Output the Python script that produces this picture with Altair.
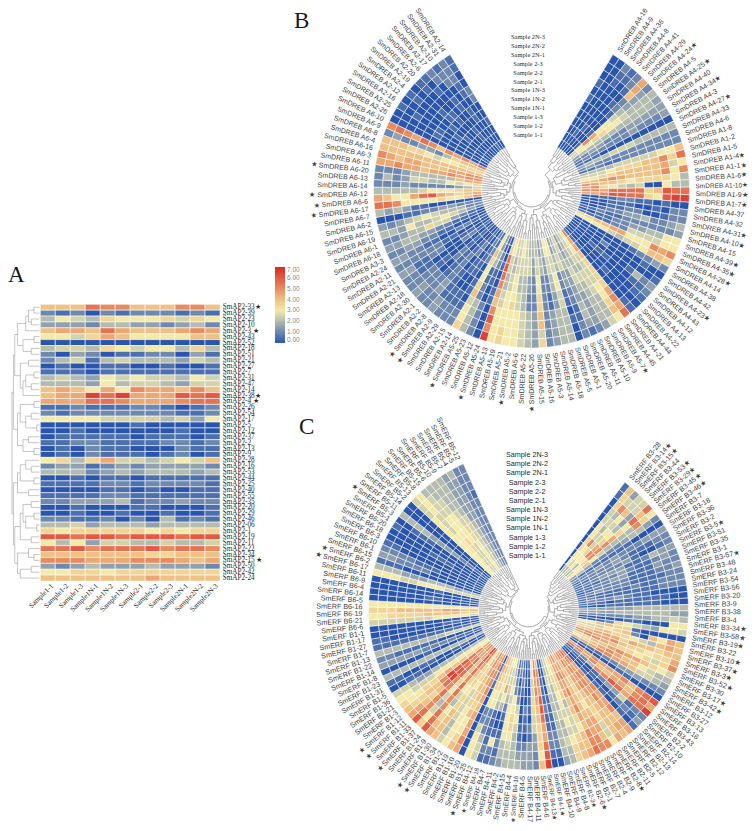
import altair as alt
import pandas as pd
import math

alt.data_transformers.disable_max_rows()

# Values are coded in half steps: 0=0.0, 2=1.0, 4=2.0, 6=3.0, 8=4.0, a=5.0, c=6.0, e=7.0
SAMPLES = ["1-1", "1-2", "1-3", "1N-1", "1N-2", "1N-3", "2-1", "2-2", "2-3", "2N-1", "2N-2", "2N-3"]
LEGEND_TICKS = [0, 1, 2, 3, 4, 5, 6, 7]
COLOR_STOPS = ["#2a55ad", "#6e88ae", "#b3bcae", "#f3e9a8", "#efc184", "#e88c60", "#e25a45", "#d62a22"]

A_LABELS = ["33★", "39", "23", "10", "3 ★", "43", "52", "18", "51", "21", "27", "7", "31", "47", "14", "38★", "4 ★",
            "26", "54", "17", "5", "12", "37", "2", "13", "9", "28", "16", "53", "44", "25", "40", "55", "35", "20",
            "29", "46", "06", "1", "19", "11", "22", "34", "15 ★", "50", "42", "24"]
A_ROWS = ["888baa888aa8", "212021222121", "465476667576", "333244332342", "8998b9888 9a9".replace(" ", ""),
          "665798666688", "000000000000", "455476566474", "203201122031", "245145444354", "010011001001",
          "111011111111", "454365655465", "444364554355", "898696a998a8", "899dbd999cbc", "999bba999abb",
          "112111221012", "212222222112", "666655554536", "000000100000", "001000000100", "011111011101",
          "112211112212", "010211000211", "010211101201", "674795545658", "233123233332", "444234344434",
          "001011011111", "111122122221", "000011010011", "111122111111", "223334122322", "001000110001",
          "001001001001", "221120204121", "445344434444", "767777767677", "ccbccbcccbc c".replace(" ", ""),
          "646355445445", "bbcabbbcabba", "888888877888", "aaa999aaa989", "323433343332", "667767777777",
          "888888898888"]
A_GAPS = "2435826394725369273518462953728493625173942837"

B_LABELS = ["A4-16", "A4-9", "A4-36", "A4-8", "A4-41", "A4-29", "A4-24 ★", "A4-5", "A4-25 ★", "A4-40", "A4-34 ★", "A4-3",
            "A4-27 ★", "A4-33", "A4-6", "A1-8", "A1-2", "A1-5", "A1-4 ★", "A1-1 ★", "A1-6 ★", "A1-10 ★", "A1-9 ★",
            "A1-7 ★", "A4-37", "A4-32", "A4-31 ★", "A4-10 ★", "A4-15", "A4-39 ★", "A4-35 ★", "A4-28 ★", "A4-14",
            "A4-38", "A4-42", "A4-23 ★", "A4-43", "A4-12", "A4-13", "A4-22", "A4-44", "A4-21", "A4-45", "A5-7 ★",
            "A5-9", "A5-10", "A5-11", "A5-20", "A5-1", "A5-5", "A5-18", "A5-14", "A5-3", "A5-16", "A5-15", "A5-26 ★",
            "A5-22", "A5-6", "A5-2 ★", "A5-21", "A5-19", "A5-13", "A5-24 ★", "A5-12", "A5-23", "A5-25 ★", "A2-14",
            "A2-15", "A2-29", "A2-9 ★", "A2-8 ★", "A2-2", "A2-1", "A2-30", "A2-18", "A2-13", "A2-21", "A2-11", "A2-24",
            "A3-3", "A6-18", "A6-1", "A6-19", "A6-15", "A6-2", "A6-7", "A6-17 ★", "A6-6 ★", "A6-12 ★", "A6-14", "A6-13",
            "A6-20 ★", "A6-11", "A6-3", "A6-16", "A6-4", "A6-8", "A6-9", "A6-10", "A2-26", "A2-25", "A2-16", "A2-12",
            "A2-4", "A2-19", "A2-20", "A2-6", "A2-17", "A2-10", "A2-31", "A2-14"]
B_ROWS = ["000000101000", "000000000000", "001000000112", "000100000011", "000000010122", "010100122899",
          "56a966543332", "566776654444", "344444444443", "223322233333", "122222232223", "111000000000",
          "344455544444", "232222222222", "112112222222", "444455555668", "555677788a7b", "667788888956",
          "889a98888a6a", "a98876777764", "9a7654500644", "aa9bbbb78cbb", "99accbb76cdd", "001122110100",
          "000111001022", "000112200122", "001223342234", "112112222223", "001122334466", "111122555566",
          "778899666a9a", "666654556887", "000000012232", "000000000100", "000020000001", "000000001423",
          "000111000112", "000000000011", "000000100000", "111000000011", "a99877779a9b", "666555566786",
          "555545554445", "444445444443", "333455433332", "554433334431", "445533221122", "334422110100",
          "665566554444", "665544334444", "443322113333", "334422222222", "445566778857", "443322223333",
          "445533224444", "555544445555", "665544556666", "555566676666", "554455666677", "665544556666",
          "77bcba98acad", "000100110000", "112211002222", "334411224444", "668766785667", "112200110122",
          "221111001122", "000011001122", "112200111133", "001122223322", "000011112222", "111122002233",
          "000000112222", "112200001122", "001100221133", "000011222222", "112200112233", "000011223322",
          "011122334433", "012355744322", "234565446344", "224445654323", "222332211000", "000000113434",
          "a86676666abb", "98789cb96689", "887666544444", "543222223222", "765644553242", "998444443222",
          "aa9a99899a99", "aa9988899 89a".replace(" ", ""), "888888888888", "777665677888", "888742332232",
          "b9a9a8ab9aba", "000000000000", "000000100000", "100000100101", "000010000000", "000101000011",
          "000000110000", "000001100011", "001100000101", "000000110022", "100011000221", "000000011222",
          "000100220011"]
B_GAPS = ("3537463594738253642957483629473859264753826475392648573926485739264"
          "738594726385947362859473628594736285947362")

C_LABELS = ["B3-28", "B3-14 ★", "B3-15 ★", "B3-44", "B3-53 ★", "B3-29 ★", "B3-45 ★", "B3-46 ★", "B3-7", "B3-18", "B3-36",
            "B3-2", "B3-5 ★", "B3-51", "B3-35", "B3-1", "B3-57 ★", "B3-48", "B3-24", "B3-54", "B3-56", "B3-20", "B3-9",
            "B3-38", "B3-4", "B3-34 ★", "B3-58 ★", "B3-19 ★", "B3-22", "B3-10 ★", "B3-37 ★", "B3-3 ★", "B3-52 ★", "B3-30",
            "B3-17 ★", "B3-42 ★", "B3-12", "B3-27", "B3-13", "B3-16", "B3-43", "B2-2", "B2-10", "B2-14", "B2-13", "B2-12",
            "B2-5", "B2-11", "B2-8 ★", "B2-9", "B2-4", "B2-7", "B2-1", "B2-6 ★", "B2-3 ★", "B4-8", "B4-9", "B4-10",
            "B4-1 ★", "B4-13 ★", "B4-6", "B4-11", "B4-17", "B4-5", "B4-16 ★", "B4-4", "B4-15", "B4-2", "B4-11", "B4-7",
            "B4-18 ★", "B4-12 ★", "B1-25", "B1-20", "B1-10", "B1-19", "B1-2", "B1-34 ★", "B1-30 ★", "B1-9", "B1-24",
            "B1-37 ★", "B1-33", "B1-11 ★", "B1-12 ★", "B1-3", "B1-21", "B1-36", "B1-5", "B1-31", "B1-23", "B1-8", "B1-14",
            "B1-22", "B1-13", "B1-7", "B1-27", "B1-17", "B1-1", "B6-6", "B6-21", "B6-19", "B6-16", "B6-5", "B6-14", "B6-4",
            "B6-9", "B6-11", "B6-17 ★", "B6-2 ★", "B6-15", "B6-1", "B6-10", "B6-3", "B6-18", "B6-20", "B5-1", "B5-3 ★",
            "B5-11", "B5-14", "B5-2", "B5-13", "B5-8", "B5-15", "B5-6", "B5-10", "B5-9", "B5-7", "B5-4", "B5-5", "B5-12"]
C_ROWS = ["000000000011", "466776655778", "4566a5454a53", "566755656855", "446a97643355", "567aaa976b8b",
          "668654444a76", "343222234432", "211111110000", "222323222333", "122223211122", "112222310012",
          "122333112433", "111223211232", "112233111322", "012222111223", "123222111122", "111111211222",
          "121111111222", "122232110000", "111011111100", "000111111000", "333333444444", "333344444433",
          "222222334454", "000001100066", "001276543665", "668877100000", "555678208698", "778877654898",
          "889997988788", "aa99a8776779", "9aa98776757a", "77889a998765", "6789a9886544", "999aa9985543",
          "111122333222", "000000110000", "9a9a999a8abc", "ba9a88998ab9", "1224aacb9bbd", "111012335122",
          "000010012213", "000101100101", "ab9a9a99a899", "ba9aa9a98898", "a9a9a9888889", "aa9998877556",
          "98877768998a", "89988888 99aa".replace(" ", ""), "a9a9a9a98aab", "99a998876889", "777774555788",
          "667766565677", "555444544544", "445544444443", "000011112210", "001112112210", "8aa9ccb99bcd",
          "ab9a98877768", "665577553322", "000011021333", "001002110233", "112100011234", "220125654444",
          "112266776544", "445656666443", "655542101212", "655964001621", "777654111121", "887766222455",
          "998766225666", "012100000000", "abaaa9899 9a9".replace(" ", ""), "99a988786678", "aa9887766666",
          "887765555445", "667776778888", "ba9876546789", "dcbbabbaabbc", "998877654567", "a9bbbaabaabc",
          "99abcdb87899", "9abccda88778", "677889877667", "666666655566", "444444433455", "000000001100",
          "001100110011", "444444444444", "000000100000", "111222233333", "000001111122", "555544444444",
          "111111111111", "000000000011", "001100000000", "000000000000", "566665555555", "778888777766",
          "989988888777", "666666666666", "000000000000", "000011000000", "000000000000", "000010000000",
          "555566655666", "443444333444", "000000000111", "000000222233", "000001112222", "000000000011",
          "000000000000", "000011100000", "000000000001", "000000011100", "112233334444", "000000000000",
          "000000000000", "666666666555", "666666555666", "555776665554", "555566665544", "666677554444",
          "555555544444", "444444333333", "333333333334", "222222222222", "222222221222"]
C_GAPS = ("3546374839264758392647538264759384625947362859473628495736284957362"
          "8475936284759362847593628475936284759362847593628475936284759")

OFF = 8  # page margin: reference pixels -> chart pixels
GREY = "#a0a0a0"
TXT = 0.97

cscale = alt.Scale(domain=LEGEND_TICKS, range=COLOR_STOPS, interpolate="rgb")
color = alt.Color("v:Q", scale=cscale, legend=None)
color_legend = alt.Color(
    "v:Q", scale=cscale,
    legend=alt.Legend(orient="none", legendX=275 - OFF, legendY=267 - OFF, title=None, values=LEGEND_TICKS,
                      format=".2f", gradientLength=76, gradientThickness=10, labelFontSize=6.5, labelColor="#888888",
                      labelFont="Liberation Sans", gradientStrokeWidth=0, labelOffset=2),
)


def decode(rows):
    out = []
    for i, r in enumerate(rows):
        for j, c in enumerate(r[:12]):
            out.append({"i": i, "i2": i + 1, "j": j, "j2": j + 1, "v": int(c, 16) / 2})
    return pd.DataFrame(out)


def tree_segments(gaps_text, n):
    gaps = [int(gaps_text[k % len(gaps_text)]) for k in range(n - 1)]
    segs = []

    def node(lo, hi):
        if lo == hi:
            return lo + 0.5, 0
        best = max(range(lo, hi), key=lambda k: (gaps[k] + (hi - lo) * 0.001, -abs(k - (lo + hi) / 2)))
        p1, h1 = node(lo, best)
        p2, h2 = node(best + 1, hi)
        h = max(gaps[best], h1 + 0.5, h2 + 0.5)
        segs.append({"p0": p1, "p1": p1, "h0": h1, "h1": h})
        segs.append({"p0": p2, "p1": p2, "h0": h2, "h1": h})
        segs.append({"p0": p1, "p1": p2, "h0": h, "h1": h})
        return (p1 + p2) / 2, h

    _, top = node(0, n - 1)
    df = pd.DataFrame(segs)
    df["hmax"] = top
    return df


def circular(rows, labels, samples_font, cx, cy, deg0, deg1, r0, r1, rlabel, fsize, prefix, y_top, y_bot, sx, sfs):
    cx0, cy0 = cx - OFF, cy - OFF
    n = len(rows)
    a0, a1 = math.radians(deg0), math.radians(deg1)
    th = alt.Scale(domain=[0, n], range=[a0, a1])
    rad = alt.Scale(type="linear", domain=[0, 12], range=[r0, r1])
    layers = []
    cells = alt.Chart(decode(rows)).mark_arc(stroke="white", strokeWidth=0.55).encode(
        theta=alt.Theta("i:Q", scale=th), theta2="i2:Q",
        radius=alt.Radius("j:Q", scale=rad), radius2="j2:Q",
        color=color, x=alt.value(cx0), y=alt.value(cy0))
    segs = tree_segments({"B": B_GAPS, "C": C_GAPS}[prefix], n)
    top = float(segs["hmax"].iloc[0])
    tree = alt.Chart(segs).mark_arc(filled=False, stroke=GREY, strokeWidth=0.55).encode(
        theta=alt.Theta("p0:Q", scale=th), theta2="p1:Q",
        radius=alt.Radius("h0:Q", scale=alt.Scale(type="linear", domain=[0, top], range=[r0, 17])), radius2="h1:Q",
        x=alt.value(cx0), y=alt.value(cy0))
    layers += [tree, cells]
    m = len(labels)
    rec = []
    for k, lab in enumerate(labels):
        deg = deg0 + (deg1 - deg0) * (k + 0.5) / m
        name = ("SmDREB " if prefix == "B" else "SmERF ") + lab
        starred = " ★" in name
        # the longest starred labels at the page edges are set a little smaller to stay on the page
        fs = fsize
        if prefix == "C" and starred and 160 < deg < 200:
            fs = 6.3
        if prefix == "B" and lab == "A1-10 ★":
            fs = 6.5
        if deg % 360 < 180:
            rec.append({"k": k + 0.5, "t": name.replace(" ★", "★"), "ang": (deg - 90) % 360, "side": "R", "rl": 1, "fs": fs})
        else:
            txt = ("★ " + name.replace(" ★", "")) if starred else name
            rec.append({"k": k + 0.5, "t": txt, "ang": (deg + 90) % 360, "side": "L", "rl": 1, "fs": fs})
    ldf = pd.DataFrame(rec)
    tl = alt.Scale(domain=[0, m], range=[a0, a1])
    rl = alt.Scale(type="linear", domain=[0, 1], range=[0, rlabel])
    for side, align in (("R", "left"), ("L", "right")):
        layers.append(alt.Chart(ldf[ldf.side == side]).mark_text(
            align=align, baseline="middle", font="Liberation Sans", color="#3a3a3a", opacity=TXT).encode(
            theta=alt.Theta("k:Q", scale=tl), radius=alt.Radius("rl:Q", scale=rl), size=alt.Size("fs:Q", scale=None),
            text="t:N", angle=alt.Angle("ang:Q", scale=None), x=alt.value(cx0), y=alt.value(cy0)))
    sdf = pd.DataFrame({"n": ["Sample " + s for s in SAMPLES[::-1]], "q": list(range(12))})
    layers.append(alt.Chart(sdf).mark_text(font=samples_font, fontSize=sfs, color="#222222", opacity=TXT).encode(
        x=alt.value(sx - OFF), text="n:N",
        y=alt.Y("q:Q", axis=None, scale=alt.Scale(domain=[0, 11], range=[y_top - OFF, y_bot - OFF]))))
    return layers


# ---- Panel A
n_a = len(A_ROWS)
ax = alt.Scale(domain=[0, 12], range=[40.3 - OFF, 220 - OFF])
ay = alt.Scale(domain=[0, n_a], range=[304.3 - OFF, 581 - OFF])
a_cells = alt.Chart(decode(A_ROWS)).mark_rect(stroke="white", strokeWidth=0.55).encode(
    x=alt.X("j:Q", scale=ax, axis=None), x2="j2:Q",
    y=alt.Y("i:Q", scale=ay, axis=None), y2="i2:Q", color=color_legend)
a_lab = alt.Chart(pd.DataFrame({"t": ["SmAP2-" + s for s in A_LABELS], "q": [k + 0.5 for k in range(n_a)]})).mark_text(
    align="left", baseline="middle", font="Liberation Serif", fontSize=7.2, color="#222222", opacity=TXT).encode(
    x=alt.value(222.7 - OFF), y=alt.Y("q:Q", scale=ay, axis=None), text="t:N")
a_xl = alt.Chart(pd.DataFrame({"t": ["Sample" + s for s in SAMPLES], "q": [k + 0.8 for k in range(12)]})).mark_text(
    align="right", baseline="middle", angle=315, font="Liberation Serif", fontSize=7.2, color="#222222", opacity=TXT).encode(
    x=alt.X("q:Q", scale=ax, axis=None), y=alt.value(585 - OFF), text="t:N")
a_segs = tree_segments(A_GAPS, n_a)
a_top = float(a_segs["hmax"].iloc[0])
a_tree = alt.Chart(a_segs).mark_rule(color=GREY, strokeWidth=0.6).encode(
    x=alt.X("h0:Q", scale=alt.Scale(domain=[0, a_top], range=[39.5 - OFF, 12 - OFF]), axis=None), x2="h1:Q",
    y=alt.Y("p0:Q", scale=ay, axis=None), y2="p1:Q")

# ---- Panel letters
letters = [
    alt.Chart(pd.DataFrame({"t": [t]})).mark_text(font="Liberation Serif", fontSize=23, color="#111111", opacity=TXT,
                                                  align="left", baseline="alphabetic").encode(
        text="t:N", x=alt.value(px - OFF), y=alt.value(py - OFF))
    for t, px, py in [("A", 8, 282), ("B", 294, 28), ("C", 299, 434)]
]

layers = [a_tree, a_cells, a_lab, a_xl]
layers += circular(B_ROWS, B_LABELS, "Liberation Serif", 531.5, 190, 31, 329, 50, 158, 164, 7.0, "B", 37, 135, 528, 6.4)
layers += circular(C_ROWS, C_LABELS, "Liberation Sans", 528.5, 610, 37, 336, 50, 160, 166, 7.2, "C", 455, 556, 527, 7.2)
layers += letters

chart = alt.layer(*layers).resolve_scale(
    x="independent", y="independent", theta="independent", radius="independent", color="shared"
).properties(width=740, height=815, padding=0, autosize="none").configure_view(stroke=None)

chart.save("out.html", embed_options={"renderer": "svg", "actions": False})
